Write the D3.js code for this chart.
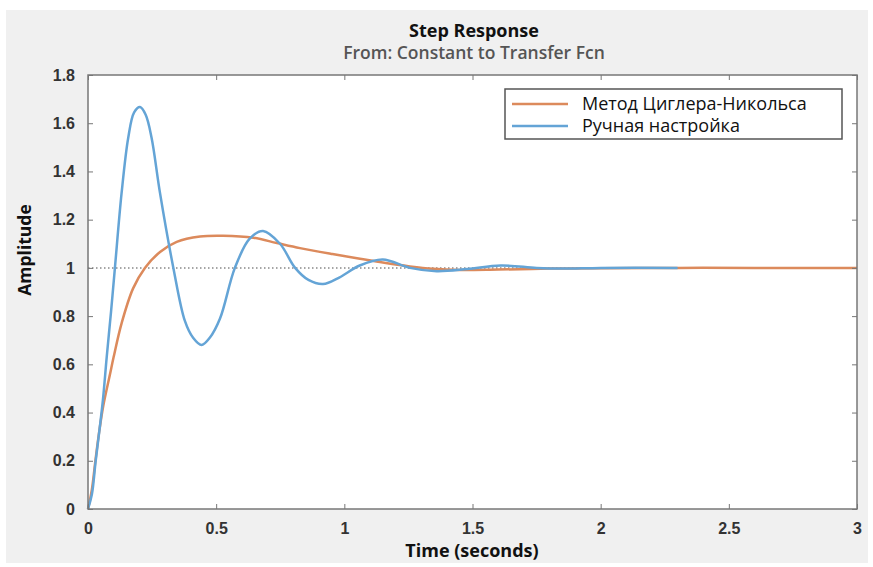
<!DOCTYPE html>
<html>
<head>
<meta charset="utf-8">
<script src="https://d3js.org/d3.v7.min.js"></script>
<style>
  body { margin: 0; background: #fff; }
  svg { font-family: "Open Sans", "Noto Sans", sans-serif; }
  .tick text { font-size: 16px; font-weight: 600; fill: #333; }
  .tick line { stroke: #777; }
</style>
</head>
<body>
<svg width="873" height="567"></svg>
<script>

// values
var timeZN = [0, 0.015, 0.03, 0.045, 0.06, 0.086, 0.1, 0.131, 0.176, 0.222, 0.281, 0.346, 0.437, 0.527, 0.645, 0.737, 0.827, 0.95, 1.061, 1.15, 1.256, 1.346, 1.45, 1.6, 1.8, 2.0, 2.3, 2.6, 3.0];
var ampZN  = [0, 0.08, 0.21, 0.33, 0.43, 0.56, 0.63, 0.77, 0.915, 1.0, 1.066, 1.108, 1.13, 1.133, 1.125, 1.103, 1.082, 1.058, 1.038, 1.022, 1.006, 0.996, 0.991, 0.993, 0.997, 0.999, 1.0, 1.0, 1.0];

var timeManual = [0, 0.015, 0.03, 0.045, 0.058, 0.073, 0.09, 0.105, 0.131, 0.157, 0.18, 0.203, 0.225, 0.248, 0.281, 0.333, 0.378, 0.41, 0.443, 0.475, 0.515, 0.573, 0.63, 0.683, 0.749, 0.808, 0.86, 0.917, 0.98, 1.06, 1.15, 1.256, 1.36, 1.48, 1.61, 1.75, 1.85, 2.0, 2.3];
var ampManual  = [0, 0.06, 0.2, 0.33, 0.45, 0.63, 0.82, 1.0, 1.31, 1.54, 1.645, 1.667, 1.635, 1.54, 1.31, 1.0, 0.78, 0.71, 0.68, 0.71, 0.79, 1.0, 1.12, 1.153, 1.10, 1.0, 0.95, 0.933, 0.96, 1.01, 1.035, 1.0, 0.986, 0.995, 1.01, 1.0, 0.997, 1.0, 1.0];

var seriesNames = ["Метод Циглера-Никольса", "Ручная настройка"];
var xTicks = [0, 0.5, 1, 1.5, 2, 2.5, 3];
var yTicks = [0, 0.2, 0.4, 0.6, 0.8, 1, 1.2, 1.4, 1.6, 1.8];

var colours = ["#dc8a5c", "#64a4d6"];

var svg = d3.select("svg");

// figure background
svg.append("rect")
   .attr("x", 6).attr("y", 10)
   .attr("width", 862).attr("height", 553)
   .attr("fill", "#f0f0f0");

var plotLeft = 88, plotTop = 75, plotRight = 857, plotBottom = 509;

var xScale = d3.scaleLinear().domain([0, 3]).range([plotLeft, plotRight]),
    yScale = d3.scaleLinear().domain([0, 1.8]).range([plotBottom, plotTop]);

svg.append("rect")
   .attr("x", plotLeft).attr("y", plotTop)
   .attr("width", plotRight - plotLeft).attr("height", plotBottom - plotTop)
   .attr("fill", "#fff");

// reference line at 1
svg.append("line")
   .attr("x1", xScale(0)).attr("x2", xScale(3))
   .attr("y1", yScale(1)).attr("y2", yScale(1))
   .attr("stroke", "#888")
   .attr("stroke-width", 1.5)
   .attr("stroke-dasharray", "1.5,2.5");

var line = d3.line()
    .x(function(d) { return xScale(d[0]); })
    .y(function(d) { return yScale(d[1]); })
    .curve(d3.curveCatmullRom.alpha(0.5));

var zn = d3.zip(timeZN, ampZN),
    manual = d3.zip(timeManual, ampManual);

svg.append("path")
   .attr("d", line(zn))
   .attr("fill", "none")
   .attr("stroke", colours[0])
   .attr("stroke-width", 2.5);

svg.append("path")
   .attr("d", line(manual))
   .attr("fill", "none")
   .attr("stroke", colours[1])
   .attr("stroke-width", 2.5);

// axes, ticks pointing inward
var gx = svg.append("g")
   .attr("transform", "translate(0," + plotBottom + ")")
   .call(d3.axisBottom(xScale).tickValues(xTicks).tickSize(-5).tickPadding(14).tickFormat(d3.format("")));
var gxt = svg.append("g")
   .attr("transform", "translate(0," + plotTop + ")")
   .call(d3.axisTop(xScale).tickValues(xTicks).tickSize(-5).tickFormat(""));
var gy = svg.append("g")
   .attr("transform", "translate(" + plotLeft + ",0)")
   .call(d3.axisLeft(yScale).tickValues(yTicks).tickSize(-5).tickPadding(13).tickFormat(d3.format("")));
var gyr = svg.append("g")
   .attr("transform", "translate(" + plotRight + ",0)")
   .call(d3.axisRight(yScale).tickValues(yTicks).tickSize(-5).tickFormat(""));

[gx, gxt, gy, gyr].forEach(function(g) { g.select(".domain").remove(); });

svg.append("rect")
   .attr("x", plotLeft).attr("y", plotTop)
   .attr("width", plotRight - plotLeft).attr("height", plotBottom - plotTop)
   .attr("fill", "none")
   .attr("stroke", "#777")
   .attr("stroke-width", 1.5);

// titles
svg.append("text")
   .attr("x", 474).attr("y", 37)
   .attr("text-anchor", "middle")
   .style("font-size", "18px").style("font-weight", "bold").attr("fill", "#111")
   .text("Step Response");

svg.append("text")
   .attr("x", 474).attr("y", 59)
   .attr("text-anchor", "middle")
   .style("font-size", "17.5px").style("font-weight", 600).attr("fill", "#555")
   .text("From: Constant to Transfer Fcn");

svg.append("text")
   .attr("x", 472).attr("y", 557)
   .attr("text-anchor", "middle")
   .style("font-size", "18px").style("font-weight", "bold").attr("fill", "#111")
   .text("Time (seconds)");

svg.append("text")
   .attr("transform", "translate(31,250) rotate(-90)")
   .attr("text-anchor", "middle")
   .style("font-size", "17.5px").style("font-weight", "bold").attr("fill", "#111")
   .text("Amplitude");

// legend
var legend = svg.append("g");
legend.append("rect")
   .attr("x", 505).attr("y", 89)
   .attr("width", 337).attr("height", 50)
   .attr("fill", "#fff")
   .attr("stroke", "#555")
   .attr("stroke-width", 1.5);

seriesNames.forEach(function(name, i) {
  var y = 104 + i * 22;
  legend.append("line")
     .attr("x1", 512).attr("x2", 568)
     .attr("y1", y).attr("y2", y)
     .attr("stroke", colours[i])
     .attr("stroke-width", 2.5);
  legend.append("text")
     .attr("x", 582).attr("y", y + 6)
     .style("font-size", "18px").attr("fill", "#111")
     .text(name);
});

</script>
</body>
</html>
